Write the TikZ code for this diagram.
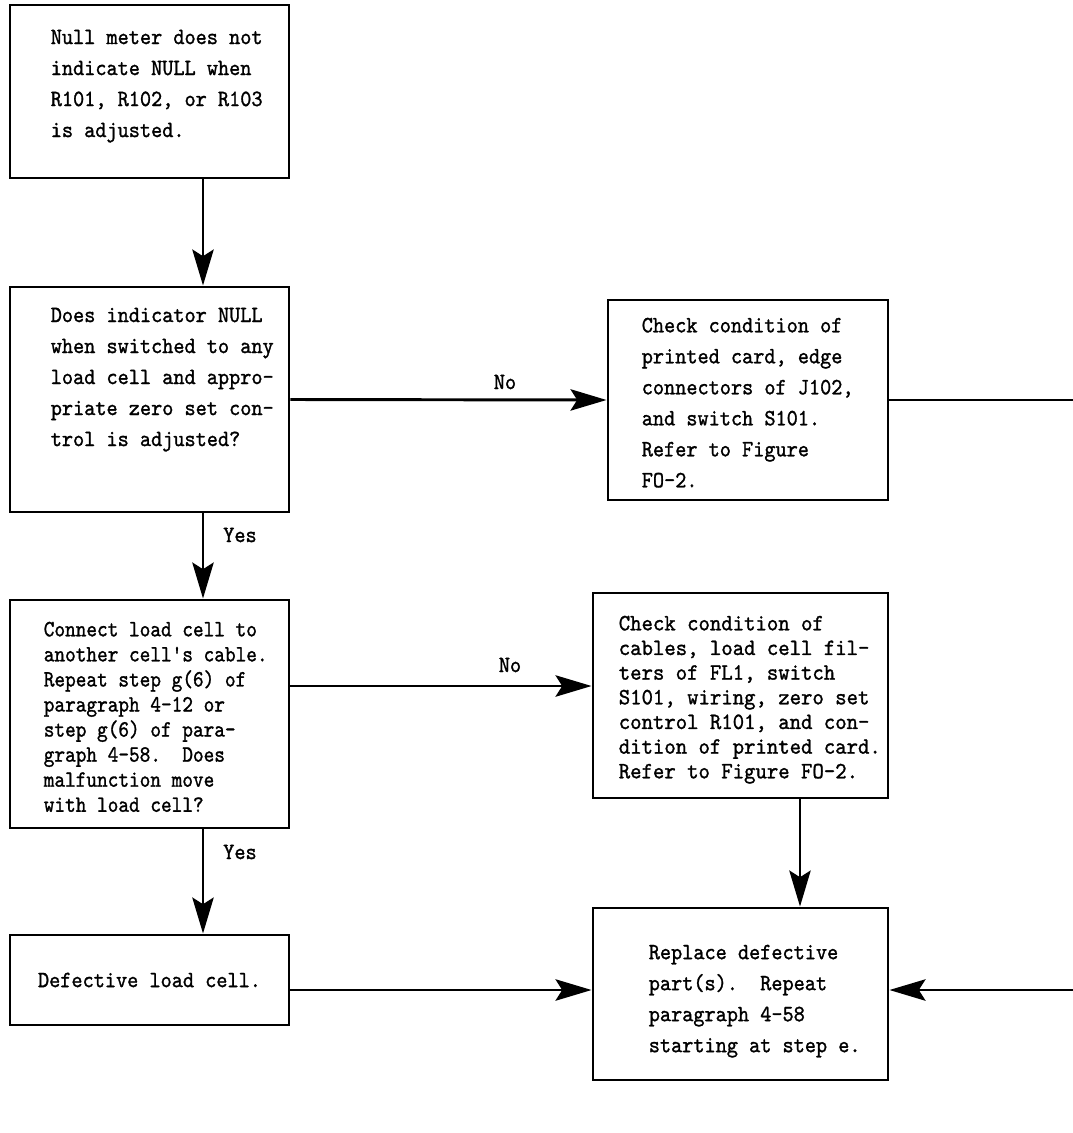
\documentclass[tikz,border=0pt]{standalone}
\usepackage{fontspec}
\usetikzlibrary{arrows.meta,fit}
\newfontfamily\twfont{lmmono10-regular.otf}[FakeStretch=0.91, FakeBold=1.2]
\newfontfamily\twfontwide{lmmono10-regular.otf}[FakeStretch=0.93, FakeBold=1.2]
\newfontfamily\twfontnarrow{lmmono10-regular.otf}[FakeStretch=0.87, FakeBold=1.2]
\begin{document}
\begin{tikzpicture}[x=0.75pt, y=-0.75pt,
    >={Stealth[length=27pt, width=16pt, inset=5pt]},
    box/.style={draw, line width=2.2pt, inner sep=0pt},
    txt/.style={anchor=north west, inner sep=0pt, align=left,
      font=\fontsize{17.5}{23.25}\selectfont\twfont},
    tight/.style={font=\fontsize{17.5}{18.5}\selectfont\twfontwide},
    lbl/.style={inner sep=0pt, font=\fontsize{17.5}{18}\selectfont\twfont},
    arr/.style={->, line width=2.2pt}]
  \useasboundingbox (0,0) rectangle (1073,1133);

  % Boxes
  \node[box, fit={(10,5) (289,178)}] (b1) {};
  \node[box, fit={(10,287) (289,512)}] (b2) {};
  \node[box, fit={(608,300) (888,500)}] (b3) {};
  \node[box, fit={(10,600) (289,828)}] (b4) {};
  \node[box, fit={(593,593) (888,798)}] (b5) {};
  \node[box, fit={(593,908) (888,1080)}] (b6) {};
  \node[box, fit={(10,935) (289,1025)}] (b7) {};

  % Texts
  \node[txt] (t1) at ([shift={(42,26)}]b1.north west)
    {Null meter does not\\indicate NULL when\\R101, R102, or R103\\is adjusted.};
  \node[txt] (t2) at ([shift={(42,22)}]b2.north west)
    {Does indicator NULL\\when switched to any\\load cell and appro-\\priate zero set con-\\trol is adjusted?};
  \node[txt] (t3) at ([shift={(35,19)}]b3.north west)
    {Check condition of\\printed card, edge\\connectors of J102,\\and switch S101.\\Refer to Figure\\FO-2.};
  \node[txt, font=\fontsize{17.5}{18.8}\selectfont\twfontnarrow] (t4) at ([shift={(35,23)}]b4.north west)
    {Connect load cell to\\another cell's cable.\\Repeat step g(6) of\\paragraph 4-12 or\\step g(6) of para-\\graph 4-58.~~Does\\malfunction move\\with load cell?};
  \node[txt, tight] (t5) at ([shift={(27,24)}]b5.north west)
    {Check condition of\\cables, load cell fil-\\ters of FL1, switch\\S101, wiring, zero set\\control R101, and con-\\dition of printed card.\\Refer to Figure FO-2.};
  \node[txt] (t6) at ([shift={(57,38)}]b6.north west)
    {Replace defective\\part(s).~~Repeat\\paragraph 4-58\\starting at step e.};
  \node[txt, anchor=center] (t7) at (b7.center) {Defective load cell.};

  % Connectors
  \coordinate (vx) at (203,0);
  \coordinate (vx2) at (800,0);
  \coordinate (h2) at (0,686);
  \coordinate (h3) at (0,990);
  \coordinate (rt) at (1073,990);
  \coordinate (rt2) at (1073,400);
  \draw[arr] (vx |- b1.south) -- (vx |- b2.north);
  \draw[arr] (b2.east) -- (b3.west);
  \draw[line width=2.2pt] (b3.east) -- (rt2);
  \draw[arr] (vx |- b2.south) -- (vx |- b4.north);
  \draw[arr] (b4.east |- h2) -- (b5.west |- h2);
  \draw[arr] (vx2 |- b5.south) -- (vx2 |- b6.north);
  \draw[arr] (vx |- b4.south) -- (vx |- b7.north);
  \draw[arr] (b7.east |- h3) -- (b6.west |- h3);
  \draw[arr] (rt) -- (b6.east |- rt);

  % Labels
  \node[lbl] (no1) at (505,382) {No};
  \node[lbl] (no2) at (510,665) {No};
  \node[lbl] (yes1) at (240,535) {Yes};
  \node[lbl] (yes2) at (240,852) {Yes};
\end{tikzpicture}
\end{document}
